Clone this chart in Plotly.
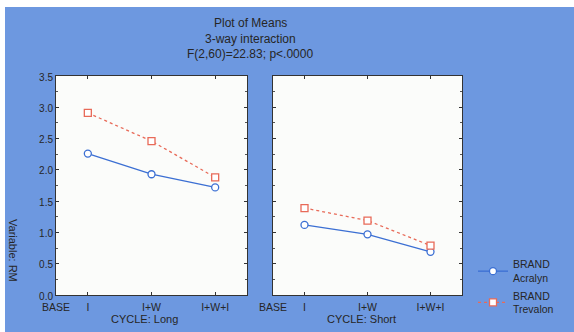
import plotly.graph_objects as go

# ---- data ----
cycles = ["I", "I+W", "I+W+I"]
tick_labels = ["BASE", "I", "I+W", "I+W+I"]
y_ticks = [0.0, 0.5, 1.0, 1.5, 2.0, 2.5, 3.0, 3.5]

long_acralyn = [2.26, 1.93, 1.72]
long_trevalon = [2.91, 2.46, 1.88]
short_acralyn = [1.12, 0.97, 0.69]
short_trevalon = [1.39, 1.19, 0.79]

positions = [1, 2, 3]
tick_positions = [0.5, 1, 2, 3]

W, H = 574, 332
L, R, T, B = 56, 112, 76, 37
BG = "#6d98e0"
PLOT_BG = "#fbfcfa"
BLUE = "#3b6fd3"
RED = "#e86a58"
TXT = "#262626"
FONT = "Liberation Sans, Arial, sans-serif"

fig = go.Figure()

def add(x_axis, y_axis, ys, name, color, symbol, dash, show):
    fig.add_trace(go.Scatter(
        x=positions, y=ys, xaxis=x_axis, yaxis=y_axis,
        mode="lines+markers", name=name, legendgroup=name, showlegend=show,
        line=dict(color=color, width=1.3, dash=dash),
        marker=dict(symbol=symbol, size=7, color="white",
                    line=dict(color=color, width=1.3)),
    ))

add("x", "y", long_acralyn, "BRAND<br>Acralyn", BLUE, "circle", "solid", True)
add("x", "y", long_trevalon, "BRAND<br>Trevalon", RED, "square", "dot", True)
add("x2", "y2", short_acralyn, "BRAND<br>Acralyn", BLUE, "circle", "solid", False)
add("x2", "y2", short_trevalon, "BRAND<br>Trevalon", RED, "square", "dot", False)

pw = W - L - R
ph = H - T - B

def px2x(px):
    return (px - L) / pw

def py2y(py):
    return (H - B - py) / ph

d1 = [0, px2x(247)]
d2 = [px2x(273), 1]

XTICKFONT = dict(size=10.5, color=TXT, family=FONT)
YTICKFONT = dict(size=10, color=TXT, family=FONT)

xcommon = dict(range=[0.5, 3.5], tickvals=tick_positions, ticktext=tick_labels,
               ticks="inside", ticklen=3, tickcolor="#333", showgrid=False,
               zeroline=False, showline=True, linecolor="#333", linewidth=1,
               mirror="ticks", tickfont=XTICKFONT, automargin=False,
               ticklabelstandoff=2)
ycommon = dict(range=[0, 3.5], tickvals=y_ticks, ticks="inside", ticklen=3,
               tickcolor="#333", showgrid=False, zeroline=False, showline=True,
               linecolor="#333", linewidth=1, mirror="ticks",
               tickformat=".1f", automargin=False,
               minor=dict(ticks="inside", ticklen=2, dtick=0.25, tickcolor="#555"))

fig.update_layout(
    width=W, height=H,
    margin=dict(l=L, r=R, t=T, b=B, autoexpand=False),
    paper_bgcolor=BG,
    plot_bgcolor=PLOT_BG,
    font=dict(family=FONT, size=11, color=TXT),
    xaxis=dict(domain=d1, anchor="y", **xcommon),
    yaxis=dict(domain=[0, 1], anchor="x", tickfont=YTICKFONT, ticklabelshift=1, **ycommon),
    xaxis2=dict(domain=d2, anchor="y2", **xcommon),
    yaxis2=dict(domain=[0, 1], anchor="x2", showticklabels=False, **ycommon),
    showlegend=True,
    legend=dict(xref="container", yref="container", x=473 / W, y=1 - 251 / H,
                xanchor="left", yanchor="top",
                bgcolor="rgba(0,0,0,0)", font=dict(size=10.5, color=TXT, family=FONT),
                tracegroupgap=1),
)

fig.add_shape(type="rect", xref="x2 domain", yref="y2 domain", x0=0, x1=1, y0=0, y1=1,
              fillcolor=PLOT_BG, line=dict(width=0), layer="below")

# white scan borders (top and left) seen in the reference
fig.add_shape(type="rect", xref="paper", yref="paper", x0=px2x(0), x1=px2x(W), y0=py2y(7), y1=py2y(0),
              fillcolor="white", line=dict(width=0), layer="below")
fig.add_shape(type="rect", xref="paper", yref="paper", x0=px2x(0), x1=px2x(5), y0=py2y(H), y1=py2y(0),
              fillcolor="white", line=dict(width=0), layer="below")

titles = [("Plot of Means", 23), ("3-way interaction", 39), ("F(2,60)=22.83; p<.0000", 54)]
for text, py in titles:
    fig.add_annotation(text=text, x=px2x(250), y=py2y(py), xref="paper", yref="paper",
                       showarrow=False, xanchor="center", yanchor="middle",
                       font=dict(size=12, color=TXT, family=FONT))

fig.add_annotation(text="CYCLE: Long", x=px2x(144), y=py2y(319), xref="paper", yref="paper",
                   showarrow=False, xanchor="center", yanchor="middle",
                   font=dict(size=11, color=TXT, family=FONT))
fig.add_annotation(text="CYCLE: Short", x=px2x(361), y=py2y(319), xref="paper", yref="paper",
                   showarrow=False, xanchor="center", yanchor="middle",
                   font=dict(size=11, color=TXT, family=FONT))
fig.add_annotation(text="Variable: RM", x=px2x(13), y=py2y(250), xref="paper", yref="paper",
                   showarrow=False, xanchor="center", yanchor="middle", textangle=90,
                   font=dict(size=11, color=TXT, family=FONT))

fig.write_html("out.html", config={"displayModeBar": False},
               post_script="document.body.style.margin='0';document.body.style.overflow='hidden';")
